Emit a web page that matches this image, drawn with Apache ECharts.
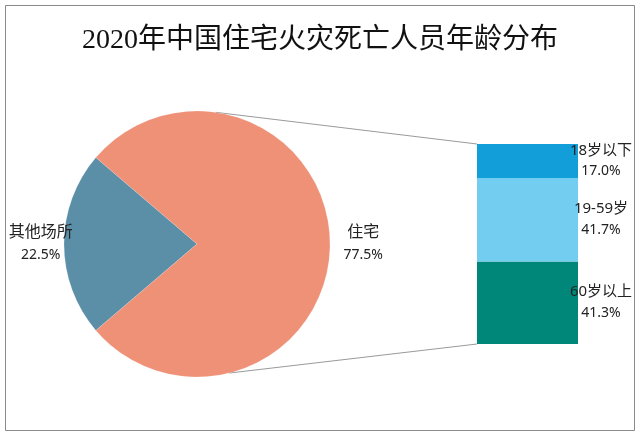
<!DOCTYPE html>
<html>
<head>
<meta charset="utf-8">
<script src="https://cdn.jsdelivr.net/npm/echarts@6/dist/echarts.min.js"></script>
<style>
  html, body { margin: 0; padding: 0; background: #fff; }
  #main { width: 640px; height: 434px; }
</style>
</head>
<body>
<div id="main"></div>
<script>
// data
const titleText = '2020年中国住宅火灾死亡人员年龄分布'
const placeNames = ['其他场所', '住宅']
const placeValues = [22.5, 77.5]
const ageNames = ['60岁以上', '19-59岁', '18岁以下']
const ageValues = [41.3, 41.7, 17.0]

// style / layout
const pieColors = ['#5b8fa8', '#ee9177']
const ageColors = ['#00877a', '#72cdf0', '#129fd9']
const pieCenter = [197, 244]
const pieR = 133
const barBox = { left: 477, top: 144, width: 101, height: 200 }
const labelFont = "'Noto Sans', 'Noto Sans CJK SC', sans-serif"

const chart = echarts.init(document.getElementById('main'))
const fmt = v => v.toFixed(1) + '%'

function edgePoint(deg) {
    let a = deg * Math.PI / 180
    return [pieCenter[0] + pieR * Math.cos(a), pieCenter[1] - pieR * Math.sin(a)]
}
// pie-of-bar connector lines
const topP = edgePoint(82)
const botP = edgePoint(-76)
const barLeft = barBox.left
const barTop = barBox.top
const barBottom = barBox.top + barBox.height

const rich = {
    n: { fontSize: 15, fontFamily: labelFont, color: '#222', lineHeight: 21 },
    v: { fontSize: 14, fontFamily: labelFont, color: '#222', lineHeight: 21 }
}

let barSeries = ageNames.map((name, i) => ({
    name: name,
    type: 'bar',
    stack: 'age',
    barWidth: '100%',
    data: [ageValues[i]],
    itemStyle: { color: ageColors[i] },
    label: {
        show: true,
        position: ['100%', '50%'],
        offset: [23, 0],
        align: 'center',
        verticalAlign: 'middle',
        formatter: p => '{n|' + p.seriesName + '}\n{v|' + fmt(p.value) + '}',
        rich: rich
    }
}))

chart.setOption({
    animation: false,
    backgroundColor: '#fff',
    title: {
        text: titleText,
        left: 'center',
        top: 27,
        padding: 0,
        textStyle: {
            fontFamily: "'Liberation Serif', 'Noto Sans CJK SC', serif",
            fontSize: 28,
            fontWeight: 'normal',
            color: '#111'
        }
    },
    grid: barBox,
    xAxis: { type: 'category', data: ['住宅'], show: false },
    yAxis: { type: 'value', min: 0, max: 100, show: false },
    graphic: [
        {
            type: 'rect',
            shape: { x: 5.5, y: 5.5, width: 629, height: 425 },
            style: { fill: 'none', stroke: '#8a8a8a', lineWidth: 1 },
            silent: true
        },
        {
            type: 'line',
            shape: { x1: topP[0], y1: topP[1], x2: barLeft, y2: barTop },
            style: { stroke: '#9a9a9a', lineWidth: 1 },
            silent: true
        },
        {
            type: 'line',
            shape: { x1: botP[0], y1: botP[1], x2: barLeft, y2: barBottom },
            style: { stroke: '#9a9a9a', lineWidth: 1 },
            silent: true
        }
    ],
    series: [
        {
            type: 'pie',
            center: pieCenter,
            radius: pieR,
            // centre the first slice on the left
            startAngle: 180 + placeValues[0] / 100 * 180,
            clockwise: true,
            avoidLabelOverlap: false,
            data: placeNames.map((n, i) => ({
                name: n, value: placeValues[i], itemStyle: { color: pieColors[i] }
            })),
            itemStyle: { borderColor: 'rgba(255,255,255,0.3)', borderWidth: 0.5 },
            label: {
                show: true,
                overflow: 'none',
                formatter: p => '{n|' + p.name + '}\n{v|' + fmt(p.value) + '}',
                rich: {
                    n: { fontSize: 16, fontFamily: labelFont, color: '#222', lineHeight: 23 },
                    v: { fontSize: 14, fontFamily: labelFont, color: '#222', lineHeight: 23 }
                }
            },
            labelLine: { show: false, length: 0, length2: 0 },
            labelLayout: p => ({
                x: p.dataIndex === 0 ? p.rect.x - 23 : p.rect.x + p.rect.width + 33,
                y: p.rect.y + p.rect.height / 2,
                align: 'center',
                verticalAlign: 'middle'
            })
        }
    ].concat(barSeries)
})
</script>
</body>
</html>
